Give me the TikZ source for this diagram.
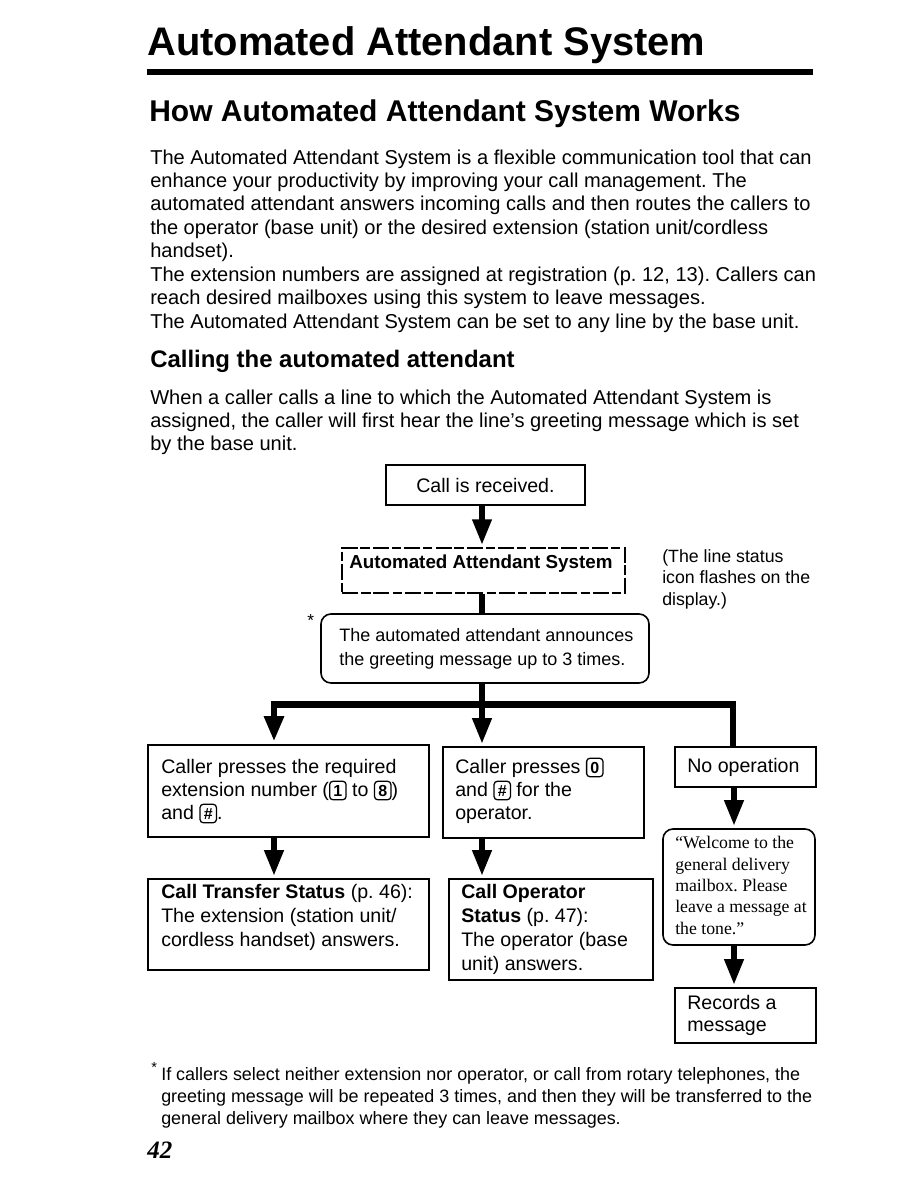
\documentclass[tikz,border=0pt]{standalone}
\usepackage{fontspec}
\setmainfont{Liberation Sans}
\newfontfamily\quotefont{Liberation Serif}
\usetikzlibrary{arrows.meta,fit}
\frenchspacing

\newcommand\keycap[1]{\tikz[baseline=(kc.base)]\node[draw,line width=0.95pt,rounded corners=2.4pt,inner xsep=2.8pt,inner ysep=2.4pt,text height=9pt,text depth=0pt,minimum width=11.5pt,font=\fontsize{12}{12}\selectfont\bfseries](kc){#1};}

\tikzset{
  txt/.style={inner sep=0pt, anchor=base west, align=left},
  box/.style={draw, line width=1.2pt, inner sep=0pt},
  dbox/.style={draw, line width=1pt, inner sep=0pt, dash pattern=on 12pt off 2.5pt on 7pt off 2pt},
  rbox/.style={draw, line width=1.2pt, inner sep=0pt, rounded corners=7.5pt},
  arr/.style={line width=3.8pt, -{Triangle[width=14pt,length=19pt]}, shorten >=2pt},
  stub/.style={line width=3.8pt},
  bar/.style={line width=5pt, line join=miter},
}

\begin{document}
\begin{tikzpicture}[x=0.75pt,y=-0.75pt]
\useasboundingbox (0,0) rectangle (918,1188);

% multi-line text nodes are anchored at the baseline of their last line
% ---- page text ----
\node[txt, font=\fontsize{29.9}{32}\selectfont\bfseries] (title) at (147,56) {Automated Attendant System};
\fill (147,69) rectangle (813,75);
\node[txt, font=\fontsize{22.5}{24}\selectfont\bfseries] (head) at (149,122) {How Automated Attendant System Works};

\node[txt, font=\fontsize{15.05}{17.57}\selectfont] (p1) at (150,328) {The Automated Attendant System is a flexible communication tool that can\\
enhance your productivity by improving your call management. The\\
automated attendant answers incoming calls and then routes the callers to\\
the operator (base unit) or the desired extension (station unit/cordless\\
handset).\\
The extension numbers are assigned at registration (p. 12, 13). Callers can\\
reach desired mailboxes using this system to leave messages.\\
The Automated Attendant System can be set to any line by the base unit.};

\node[txt, font=\fontsize{17.95}{20}\selectfont\bfseries] (sub) at (150,367) {Calling the automated attendant};

\node[txt, font=\fontsize{15.05}{17.25}\selectfont] (p2) at (150,450) {When a caller calls a line to which the Automated Attendant System is\\
assigned, the caller will first hear the line's greeting message which is set\\
by the base unit.};

% ---- flowchart boxes ----
\node[box, fit={(386,465) (585,505)}] (call) {};
\node[txt, font=\fontsize{14.7}{17}\selectfont] (callt) at (416,492) {Call is received.};

\node[dbox, fit={(342,548) (625,593)}] (aas) {};
\node[txt, font=\fontsize{14.1}{17}\selectfont\bfseries] (aast) at (349,568) {Automated Attendant System};

\node[txt, font=\fontsize{13.3}{16.1}\selectfont] (note) at (662,605) {(The line status\\icon flashes on the\\display.)};

\node[rbox, fit={(321,614) (649,683)}] (ann) {};
\node[txt, font=\fontsize{13.5}{17.4}\selectfont] (annt) at (339,665) {The automated attendant announces\\the greeting message up to 3 times.};
\node[txt, font=\fontsize{13}{13}\selectfont] (star1) at (307,626) {*};

\node[box, fit={(148,745) (429,837)}] (b1) {};
\node[txt, font=\fontsize{14.7}{17.25}\selectfont] (b1t) at (161,819.5) {Caller presses the required\\extension number (\keycap{1} to \keycap{8})\\and \keycap{\#}.};

\node[box, fit={(443,747) (644,838)}] (b2) {};
\node[txt, font=\fontsize{14.7}{17.25}\selectfont] (b2t) at (455,819.5) {Caller presses \keycap{0}\\and \keycap{\#} for the\\operator.};

\node[box, fit={(675,747) (816,787)}] (nop) {};
\node[txt, font=\fontsize{14.7}{17}\selectfont] (nopt) at (687,772.5) {No operation};

\node[box, fit={(148,879) (429,970)}] (t1) {};
\node[txt, font=\fontsize{14.7}{18}\selectfont] (t1t) at (161,946.5) {\textbf{Call Transfer Status} (p. 46):\\The extension (station unit/\\cordless handset) answers.};

\node[box, fit={(449,879) (653,980)}] (op) {};
\node[txt, font=\fontsize{14.7}{17.85}\selectfont] (opt) at (461,970) {\textbf{Call Operator}\\\textbf{Status} (p. 47):\\The operator (base\\unit) answers.};

\node[rbox, fit={(663,829) (815,945)}] (wel) {};
\node[txt, font=\quotefont\fontsize{13.3}{15.94}\selectfont] (welt) at (675,934) {“Welcome to the\\general delivery\\mailbox. Please\\leave a message at\\the tone.”};

\node[box, fit={(675,988) (816,1043)}] (rec) {};
\node[txt, font=\fontsize{14.7}{16.5}\selectfont] (rect) at (687,1031.5) {Records a\\message};

% ---- connectors ----
\coordinate (cm) at (482,0);
\coordinate (cl) at (274,0);
\coordinate (cr) at (734,0);
\coordinate (jn) at (482,704.5);
\coordinate (jl) at (274,704.5);
\coordinate (jr) at (733,704.5);

\draw[arr] (call.south -| cm) -- (aas.north -| cm);
\draw[stub] (aas.south -| cm) -- (ann.north -| cm);
\draw[stub] (ann.south -| cm) -- (jn);
\draw[bar, -{Triangle[width=14pt,length=19pt]}, shorten >=2pt] (nop.north -| jr) -- (jr) -- (jl) -- (b1.north -| jl);
\draw[arr] (jn) -- (b2.north -| jn);
\draw[arr] (b1.south -| cl) -- (t1.north -| cl);
\draw[arr] (b2.south -| cm) -- (op.north -| cm);
\draw[arr] (nop.south -| cr) -- (wel.north -| cr);
\draw[arr] (wel.south -| cr) -- (rec.north -| cr);

% ---- footnote ----
\node[txt, font=\fontsize{11}{11}\selectfont] (star2) at (151,1072) {*};
\node[txt, font=\fontsize{13.45}{16.5}\selectfont] (foot) at (161,1124) {If callers select neither extension nor operator, or call from rotary telephones, the\\
greeting message will be repeated 3 times, and then they will be transferred to the\\
general delivery mailbox where they can leave messages.};

\node[txt, font=\quotefont\fontsize{18.75}{20}\selectfont\bfseries\itshape] (pg) at (147,1158) {42};
\end{tikzpicture}
\end{document}
